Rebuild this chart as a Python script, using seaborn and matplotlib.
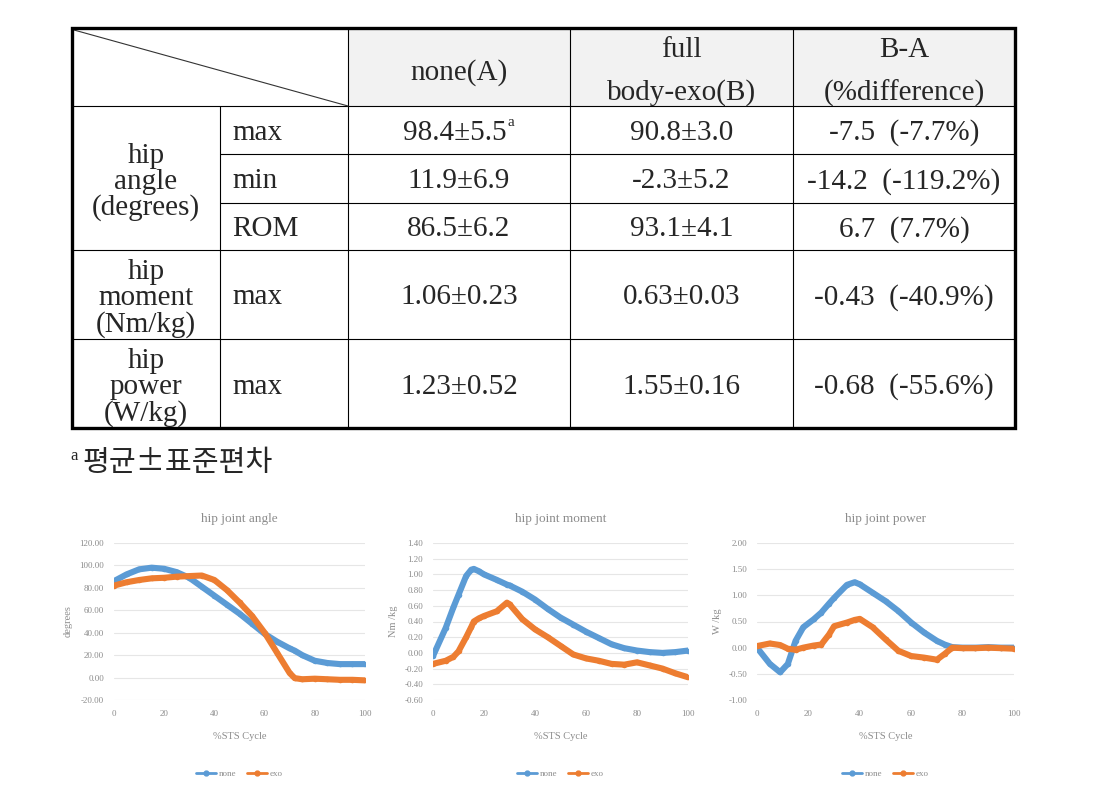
import numpy as np
import pandas as pd
import matplotlib
matplotlib.use("Agg")
import matplotlib.pyplot as plt
from matplotlib.lines import Line2D
import seaborn as sns

# ---------------- data ----------------
col_headers = ["none(A)", "full\nbody-exo(B)", "B-A\n(%difference)"]
group_labels = ["hip\nangle\n(degrees)", "hip\nmoment\n(Nm/kg)", "hip\npower\n(W/kg)"]
row_stats = ["max", "min", "ROM", "max", "max"]
col_a = ["98.4\u00b15.5", "11.9\u00b16.9", "86.5\u00b16.2", "1.06\u00b10.23", "1.23\u00b10.52"]
col_b = ["90.8\u00b13.0", "-2.3\u00b15.2", "93.1\u00b14.1", "0.63\u00b10.03", "1.55\u00b10.16"]
col_diff = ["-7.5  (-7.7%)", "-14.2  (-119.2%)", "6.7  (7.7%)", "-0.43  (-40.9%)", "-0.68  (-55.6%)"]
footnote = "\ud3c9\uade0\u00b1\ud45c\uc900\ud3b8\ucc28"

series_names = ["none", "exo"]

angle_x = [0, 5, 10, 15, 20, 25, 30, 35, 40, 45, 50, 55, 60, 65, 70, 72, 75, 80, 85, 90, 95, 100]
angle_none = [86, 92, 96.5, 98, 97, 94, 89, 81, 73, 65, 57, 48, 39, 32, 26, 24, 20, 15, 13, 12, 12, 12]
angle_exo = [82, 85, 87, 88.5, 89, 90, 90.5, 91, 87, 78, 67, 55, 40, 22, 4, -0.5, -1.5, -1, -1.5, -2, -2, -2.5]

moment_x = [0, 5, 8, 10, 13, 15, 16, 18, 20, 25, 29, 30, 35, 40, 45, 50, 55, 60, 65, 70, 75, 80, 85, 90, 95, 100]
moment_none = [-0.04, 0.32, 0.58, 0.74, 0.98, 1.06, 1.07, 1.04, 1.00, 0.93, 0.87, 0.86, 0.78, 0.68, 0.56, 0.45, 0.36, 0.27, 0.19, 0.11, 0.06, 0.03, 0.01, 0.00, 0.01, 0.03]
moment_exo = [-0.14, -0.10, -0.05, 0.02, 0.20, 0.33, 0.40, 0.44, 0.47, 0.53, 0.64, 0.62, 0.43, 0.30, 0.20, 0.09, -0.02, -0.07, -0.10, -0.14, -0.15, -0.12, -0.16, -0.20, -0.26, -0.31]

power_x = [0, 5, 9, 12, 15, 18, 22, 25, 28, 30, 35, 38, 40, 45, 50, 55, 60, 65, 70, 73, 76, 80, 85, 90, 95, 100]
power_none = [0.00, -0.31, -0.47, -0.31, 0.13, 0.39, 0.54, 0.67, 0.84, 0.95, 1.20, 1.25, 1.21, 1.05, 0.89, 0.70, 0.48, 0.29, 0.13, 0.06, 0.01, 0.00, 0.00, 0.01, 0.00, 0.00]
power_exo = [0.03, 0.08, 0.05, -0.02, -0.04, 0.00, 0.04, 0.06, 0.25, 0.41, 0.48, 0.53, 0.55, 0.39, 0.16, -0.06, -0.16, -0.19, -0.23, -0.12, 0.00, -0.01, -0.01, 0.00, -0.01, -0.02]

charts = [
    dict(title="hip joint angle", ylabel="degrees", x=angle_x, ys=[angle_none, angle_exo],
         ylim=(-20, 120), yticks=[-20, 0, 20, 40, 60, 80, 100, 120], px=(114, 365)),
    dict(title="hip joint moment", ylabel="Nm /kg", x=moment_x, ys=[moment_none, moment_exo],
         ylim=(-0.6, 1.4), yticks=[-0.6, -0.4, -0.2, 0.0, 0.2, 0.4, 0.6, 0.8, 1.0, 1.2, 1.4], px=(433, 688)),
    dict(title="hip joint power", ylabel="W /kg", x=power_x, ys=[power_none, power_exo],
         ylim=(-1.0, 2.0), yticks=[-1.0, -0.5, 0.0, 0.5, 1.0, 1.5, 2.0], px=(757, 1014)),
]
xticks = [0, 20, 40, 60, 80, 100]
colors = ["#5B9BD5", "#ED7D31"]

# ---------------- figure ----------------
sns.set_theme(style="white")
plt.rcParams["font.family"] = ["Liberation Serif", "Noto Sans CJK KR", "DejaVu Sans"]

W, H = 1105, 807
fig = plt.figure(figsize=(W / 100, H / 100), dpi=100)

# table canvas in pixel coordinates
tax = fig.add_axes([0, 0, 1, 1])
tax.set_xlim(0, W)
tax.set_ylim(H, 0)
tax.axis("off")

cols = [72, 220, 348, 570, 793, 1015]
rows = [28, 106, 154, 203, 250, 339, 428]
thin = 0.8
thick = 2.4

# header shading
tax.add_patch(plt.Rectangle((cols[2], rows[0]), cols[5] - cols[2], rows[1] - rows[0],
                            facecolor="#F2F2F2", edgecolor="none", zorder=0))
# inner horizontal lines
tax.plot([cols[0], cols[5]], [rows[1], rows[1]], color="black", lw=thin)
for r in [rows[2], rows[3]]:
    tax.plot([cols[1], cols[5]], [r, r], color="black", lw=thin)
for r in [rows[4], rows[5]]:
    tax.plot([cols[0], cols[5]], [r, r], color="black", lw=thin)
# inner vertical lines
tax.plot([cols[1], cols[1]], [rows[1], rows[6]], color="black", lw=thin)
for c in cols[2:5]:
    tax.plot([c, c], [rows[0], rows[6]], color="black", lw=thin)
# diagonal
tax.plot([cols[0] + 2, cols[2]], [rows[0] + 2, rows[1]], color="#333333", lw=0.8)
# outer border
tax.add_patch(plt.Rectangle((cols[0], rows[0]), cols[5] - cols[0], rows[6] - rows[0],
                            facecolor="none", edgecolor="black", lw=thick, zorder=5))

fs = 21
dy = 3  # text baseline tweak
centers = [(cols[i] + cols[i + 1]) / 2 for i in range(5)]
# header texts
tax.text(centers[2], 70 + dy, col_headers[0], ha="center", va="center", fontsize=fs)
for j, hdr in enumerate(col_headers[1:]):
    top, bot = hdr.split("\n")
    tax.text(centers[3 + j], 47 + dy, top, ha="center", va="center", fontsize=fs)
    tax.text(centers[3 + j], 90 + dy, bot, ha="center", va="center", fontsize=fs)

# group labels
group_y = [(rows[1] + rows[4]) / 2, (rows[4] + rows[5]) / 2, (rows[5] + rows[6]) / 2]
for lab, gy in zip(group_labels, group_y):
    tax.text(centers[0], gy + 4, lab, ha="center", va="center", fontsize=fs, linespacing=0.98)

row_y = [(rows[i] + rows[i + 1]) / 2 for i in range(1, 6)]
for i in range(5):
    y = row_y[i] + dy
    tax.text(cols[1] + 12, y, row_stats[i], ha="left", va="center", fontsize=fs)
    tax.text(centers[2] - (4 if i == 0 else 0), y, col_a[i], ha="center", va="center", fontsize=fs)
    tax.text(centers[3], y, col_b[i], ha="center", va="center", fontsize=fs)
    tax.text(centers[4], y, col_diff[i], ha="center", va="center", fontsize=fs)
# superscript a
tax.text(507, row_y[0] - 7, "a", ha="left", va="center", fontsize=11)

# footnote
tax.text(70, 456, "a", ha="left", va="center", fontsize=12)
tax.text(82, 463, footnote, ha="left", va="center", fontsize=21,
         family=["Noto Sans CJK KR", "DejaVu Sans"], fontweight="light")

# ---------------- line charts ----------------
grey = "#8C8C8C"
y_top, y_bot = 543, 700
for ch in charts:
    x0, x1 = ch["px"]
    ax = fig.add_axes([x0 / W, (H - y_bot) / H, (x1 - x0) / W, (y_bot - y_top) / H])
    ax.set_facecolor("none")
    frames = []
    for name, yv in zip(series_names, ch["ys"]):
        frames.append(pd.DataFrame({"x": ch["x"], "y": yv, "series": name}))
    df = pd.concat(frames, ignore_index=True)
    sns.lineplot(data=df, x="x", y="y", hue="series", palette=colors, ax=ax,
                 linewidth=4.4, marker="o", markersize=4, markeredgewidth=0,
                 legend=False, sort=False)
    ax.set_xlim(0, 100)
    ax.set_ylim(*ch["ylim"])
    ax.set_yticks(ch["yticks"])
    ax.set_yticklabels([f"{v:.2f}" for v in ch["yticks"]])
    ax.set_xticks(xticks)
    ax.tick_params(axis="both", labelsize=6.5, colors=grey, length=0, pad=7)
    ax.grid(axis="y", color="#E6E6E6", lw=0.8)
    ax.grid(axis="x", visible=False)
    for s in ax.spines.values():
        s.set_visible(False)
    ax.set_xlabel("%STS Cycle", fontsize=7.5, color=grey, labelpad=10)
    ax.set_ylabel(ch["ylabel"], fontsize=7.5, color=grey, labelpad=5)
    ax.set_title(ch["title"], fontsize=9.5, color=grey, pad=15)
    handles = [Line2D([], [], color=c, lw=2, marker="o", markersize=3.5) for c in colors]
    ax.legend(handles, series_names, loc="upper center", bbox_to_anchor=(0.5, -0.39),
              ncol=2, frameon=False, fontsize=6.5, labelcolor=grey, handlelength=2.2,
              columnspacing=1.2, handletextpad=0.3)

fig.savefig("out.png", dpi=100)
